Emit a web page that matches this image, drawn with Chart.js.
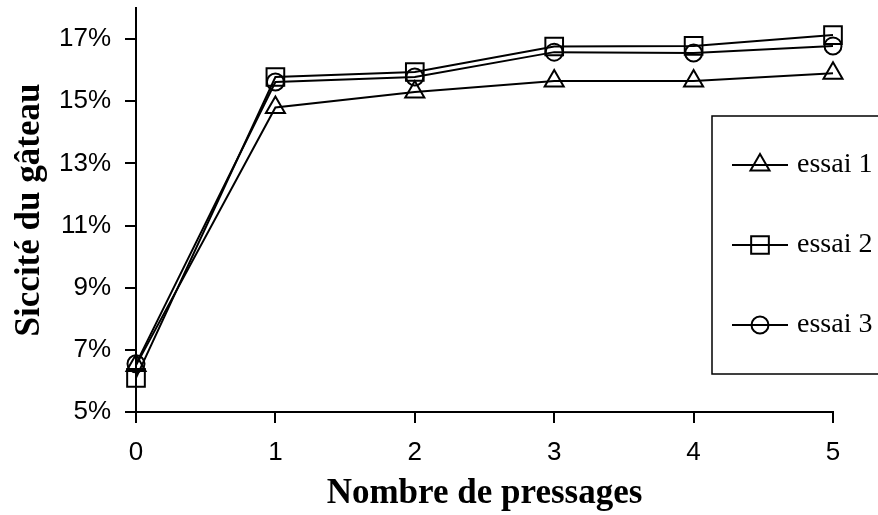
<!DOCTYPE html>
<html>
<head>
<meta charset="utf-8">
<script src="https://cdn.jsdelivr.net/npm/chart.js@4/dist/chart.umd.min.js"></script>
<style>
  body { margin: 0; background: #fff; }
  #wrap { width: 878px; height: 515px; }
</style>
</head>
<body>
<div id="wrap"><canvas id="chart" width="878" height="515"></canvas></div>
<script>
// data
const pressages = ['0', '1', '2', '3', '4', '5'];
const essai1 = [6.5, 14.8, 15.3, 15.65, 15.65, 15.9];
const essai2 = [6.1, 15.78, 15.94, 16.76, 16.78, 17.13];
const essai3 = [6.55, 15.62, 15.78, 16.58, 16.55, 16.78];
const yTicks = [5, 7, 9, 11, 13, 15, 17];

const black = '#000';

function serie(label, values, style, radius) {
    return {
        label: label,
        data: values,
        borderColor: black,
        borderWidth: 2,
        backgroundColor: 'rgba(0,0,0,0)',
        pointStyle: style,
        pointRadius: radius,
        pointHoverRadius: radius,
        pointBorderColor: black,
        pointBorderWidth: 2,
        pointBackgroundColor: 'rgba(0,0,0,0)',
        tension: 0
    };
}

// legend box, drawn by hand so it can sit over the plot on the right
const boxLegend = {
    id: 'boxLegend',
    afterDraw(chart) {
        const ctx = chart.ctx;
        ctx.save();
        ctx.strokeStyle = black;
        ctx.lineWidth = 1.5;
        ctx.strokeRect(712, 116, 220, 258);
        chart.data.datasets.forEach((ds, i) => {
            const y = 165 + i * 80;
            ctx.lineWidth = 2;
            ctx.beginPath();
            ctx.moveTo(732, y);
            ctx.lineTo(788, y);
            ctx.stroke();
            ctx.fillStyle = 'rgba(0,0,0,0)';
            Chart.helpers.drawPoint(ctx, {
                pointStyle: ds.pointStyle,
                radius: ds.pointRadius,
                borderWidth: 2,
                rotation: 0
            }, 760, y);
            ctx.fillStyle = black;
            ctx.font = '28px "Liberation Serif", serif';
            ctx.textBaseline = 'middle';
            ctx.fillText(ds.label, 797, y);
        });
        ctx.restore();
    }
};

new Chart(document.getElementById('chart'), {
    type: 'line',
    data: {
        labels: pressages,
        datasets: [
            serie('essai 1', essai1, 'triangle', 11),
            serie('essai 2', essai2, 'rect', 12.5),
            serie('essai 3', essai3, 'circle', 8.5)
        ]
    },
    options: {
        responsive: false,
        animation: false,
        layout: { autoPadding: false, padding: { top: 8, right: 45, left: 0, bottom: 0 } },
        plugins: {
            legend: { display: false },
            tooltip: { enabled: false }
        },
        scales: {
            x: {
                offset: false,
                grid: { drawOnChartArea: false, drawTicks: true, tickLength: 11, color: black, lineWidth: 2 },
                border: { color: black, width: 2 },
                ticks: { color: black, padding: 14, font: { family: '"Liberation Sans", Arial, sans-serif', size: 26 } },
                title: {
                    display: true,
                    text: 'Nombre de pressages',
                    color: black,
                    padding: { top: 0, bottom: 0 },
                    font: { family: '"Liberation Serif", serif', size: 35, weight: 'bold' }
                },
                afterFit(scale) {
                    scale.height = 103;
                    scale.paddingLeft = 0;
                    scale.paddingRight = 0;
                }
            },
            y: {
                min: 5,
                max: 18,
                afterBuildTicks(axis) { axis.ticks = yTicks.map(v => ({ value: v })); },
                grid: { drawOnChartArea: false, drawTicks: true, tickLength: 11, color: black, lineWidth: 2 },
                border: { color: black, width: 2 },
                ticks: {
                    color: black,
                    padding: 14,
                    font: { family: '"Liberation Sans", Arial, sans-serif', size: 26 },
                    callback: v => v + '%'
                },
                title: {
                    display: true,
                    text: 'Siccité du gâteau',
                    color: black,
                    padding: { top: 9, bottom: 0 },
                    font: { family: '"Liberation Serif", serif', size: 35, weight: 'bold' }
                },
                afterFit(scale) {
                    scale.width = 136;
                    scale.paddingTop = 0;
                    scale.paddingBottom = 0;
                }
            }
        }
    },
    plugins: [boxLegend]
});
</script>
</body>
</html>
